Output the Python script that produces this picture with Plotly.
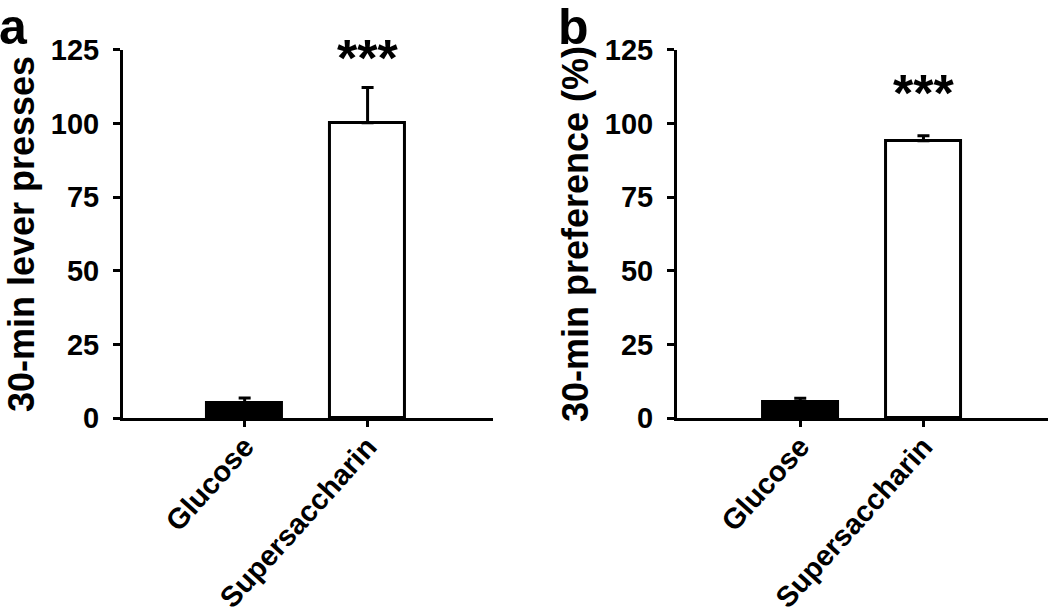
import plotly.graph_objects as go

categories = ["Glucose", "Supersaccharin"]
lever_presses = [5.1, 100.3]
lever_presses_sem = [1.7, 12.0]
preference = [5.3, 94.2]
preference_sem = [1.4, 1.7]
tick_vals = [0, 25, 50, 75, 100, 125]
stars = "***"

bar_fill = ["black", "white"]
font_family = "Liberation Sans, Arial, sans-serif"

fig = go.Figure()

fig.add_trace(go.Bar(
    x=categories, y=lever_presses, width=0.61,
    marker=dict(color=bar_fill, line=dict(color="black", width=3)),
    error_y=dict(type="data", array=lever_presses_sem, arrayminus=[0, 0],
                 symmetric=False, color="black", thickness=3, width=6),
    xaxis="x", yaxis="y", showlegend=False,
))
fig.add_trace(go.Bar(
    x=categories, y=preference, width=0.61,
    marker=dict(color=bar_fill, line=dict(color="black", width=3)),
    error_y=dict(type="data", array=preference_sem, arrayminus=[0, 0],
                 symmetric=False, color="black", thickness=3, width=6),
    xaxis="x2", yaxis="y2", showlegend=False,
))

tick_font = dict(family=font_family, size=29, color="black", weight="bold")
title_font = dict(family=font_family, size=36, color="black", weight="bold")

xaxis_common = dict(
    type="category", showline=True, linecolor="black", linewidth=3,
    ticks="outside", ticklen=6, tickwidth=3, tickcolor="black",
    tickangle=-48, ticklabelstandoff=-9,
    tickfont=dict(family=font_family, size=29, color="black", weight="bold"),
    showgrid=False, zeroline=False, automargin=False,
)
yaxis_common = dict(
    range=[0, 125], tickvals=tick_vals, showline=True, linecolor="black", linewidth=3,
    ticks="outside", ticklen=7, tickwidth=3, tickcolor="black",
    tickfont=tick_font, ticklabelstandoff=8,
    showgrid=False, zeroline=False, domain=[0.3203, 0.9187], automargin=False,
)

fig.update_layout(
    template="none",
    width=1050, height=615,
    margin=dict(l=0, r=0, t=0, b=0),
    paper_bgcolor="white", plot_bgcolor="white",
    bargap=0,
    xaxis=dict(xaxis_common, domain=[0.1171, 0.4695], range=[-0.99, 2.02], anchor="y"),
    xaxis2=dict(xaxis_common, domain=[0.6448, 0.998], range=[-1.0, 2.01], anchor="y2"),
    yaxis=dict(yaxis_common, anchor="x",
               title=dict(text="30-min lever presses", font=title_font, standoff=6)),
    yaxis2=dict(yaxis_common, anchor="x2",
                title=dict(text="30-min preference (%)", font=title_font, standoff=6)),
)

star_font = dict(family=font_family, size=52, color="black", weight="bold")
fig.add_annotation(x=categories[1], y=122.3, xref="x", yref="y", text=stars,
                   showarrow=False, font=star_font, yanchor="middle")
fig.add_annotation(x=categories[1], y=110.4, xref="x2", yref="y2", text=stars,
                   showarrow=False, font=star_font, yanchor="middle")

letter_font = dict(family=font_family, size=50, color="black", weight="bold")
fig.add_annotation(x=-0.0033, y=1.005, xref="paper", yref="paper", text="a",
                   showarrow=False, font=letter_font, xanchor="left", yanchor="top")
fig.add_annotation(x=0.5295, y=1.005, xref="paper", yref="paper", text="b",
                   showarrow=False, font=letter_font, xanchor="left", yanchor="top")

fig.write_html("out.html", config={"displayModeBar": False},
               post_script="document.body.style.margin='0';")
